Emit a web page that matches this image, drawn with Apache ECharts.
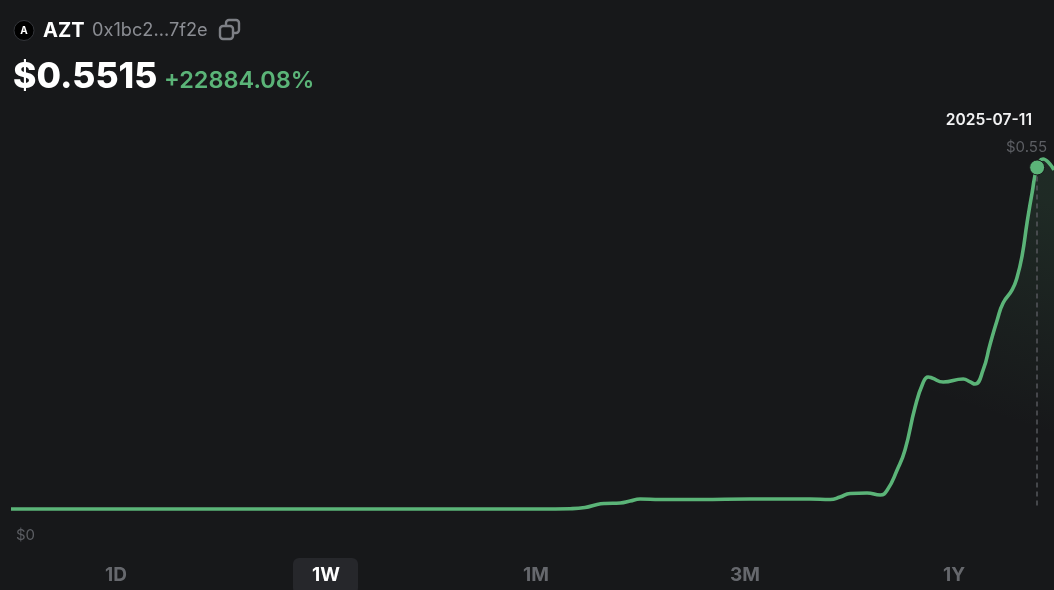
<!DOCTYPE html>
<html><head><meta charset="utf-8">
<style>html,body{margin:0;padding:0;background:#17181a}#c{width:1054px;height:590px}</style>
<script src="https://cdn.jsdelivr.net/npm/echarts@6/dist/echarts.min.js"></script>
</head><body><div id="c"></div>
<script>
const days = [0,188.2,198.9,204.2,208.5,211.3,216.7,220.2,223.8,230.9,245.1,262.9,284.2,291.4,294.9,298.5,304.5,309.2,311.7,315.2,318,321.6,324.4,326.2,327.6,331.6,338.7,341.2,342.9,345.8,348.2,350.8,352.9,356.1,357.9,359.7,361.4,363.2,365,367.1,368.9,371];
const prices = [.0016,.0016,.0021,.004,.0089,.0105,.0113,.0145,.0177,.0169,.0169,.0177,.0177,.0169,.0209,.0266,.0274,.0241,.0322,.0644,.0966,.1658,.2044,.2141,.2125,.2061,.2109,.2061,.2028,.2254,.2656,.3059,.3332,.3542,.3751,.4105,.462,.5103,.5514,.565,.5602,.5473];
const markerDay = 365, markerPrice = .5514;
const tabs = ['1D','1W','1M','3M','1Y'];
const activeTab = '1W';
const GREEN = '#5bb478', BG = '#17181a', FONT = 'Inter, "Noto Sans", sans-serif';
const tabX = [116,326,536,745,954];
const chart = echarts.init(document.getElementById('c'), null, {renderer:'canvas'});
const t = (x,y,text,size,weight,fill,align) => ({type:'text',x,y,style:{text,fontSize:size,fontWeight:weight,fill,fontFamily:FONT,align:align||'left',verticalAlign:'middle'}});
chart.setOption({
  animation:false,
  backgroundColor:BG,
  grid:{left:11,top:100,width:1043,height:410},
  xAxis:{type:'value',min:0,max:371,show:false},
  yAxis:{type:'value',min:0,max:.66,show:false},
  series:[{
    type:'line',
    data:days.map((d,i)=>[d,prices[i]]),
    smooth:.5,
    showSymbol:false,
    lineStyle:{color:GREEN,width:3.6},
    areaStyle:{color:new echarts.graphic.LinearGradient(1,.12,.93,.72,[
      {offset:0,color:'rgba(91,180,120,.17)'},{offset:1,color:'rgba(91,180,120,0)'}])},
    markLine:{silent:true,symbol:'none',label:{show:false},
      lineStyle:{color:'#55575c',type:[5,4],width:1.5},
      data:[[{coord:[markerDay,markerPrice]},{coord:[markerDay,.002]}]]},
    markPoint:{silent:true,symbol:'circle',symbolSize:15,label:{show:false},
      itemStyle:{color:GREEN,borderColor:BG,borderWidth:1},
      data:[{coord:[markerDay,markerPrice]}]}
  }],
  graphic:[
    {type:'circle',shape:{cx:24,cy:30.5,r:10},style:{fill:'#000',stroke:'#33353a',lineWidth:1}},
    t(24,31,'A',10,700,'#fff','center'),
    t(43,30.5,'AZT',20,700,'#fff'),
    t(92,30.5,'0x1bc2...7f2e',18.2,400,'#8b8d93'),
    {type:'rect',shape:{x:226,y:20,width:13,height:13,r:3},style:{fill:'none',stroke:'#7d7f85',lineWidth:2.4}},
    {type:'rect',shape:{x:220,y:26,width:13,height:13,r:3},style:{fill:BG,stroke:'#7d7f85',lineWidth:2.4}},
    t(13,77,'$0.5515',35.5,800,'#fff'),
    t(164,80.5,'+22884.08%',23.5,600,GREEN),
    t(1032,120,'2025-07-11',15.6,600,'#f2f2f3','right'),
    t(1047,147,'$0.55',15,400,'#5c5e63','right'),
    t(16,535,'$0',15,400,'#5c5e63'),
    {type:'rect',shape:{x:293,y:558,width:65,height:36,r:6},style:{fill:'#26272b'}},
    ...tabs.map((n,i)=>t(tabX[i],575,n,19,700,n===activeTab?'#fff':'#66686d','center'))
  ]
});
</script></body></html>
